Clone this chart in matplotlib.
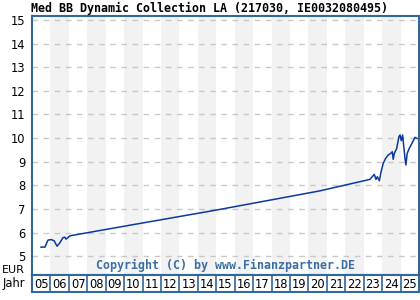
import numpy as np
import matplotlib.pyplot as plt

title = 'Med BB Dynamic Collection LA (217030, IE0032080495)'
copyright_text = 'Copyright (C) by www.Finanzpartner.DE'

# time (decimal years) and price in EUR
t = [2005.49, 2005.70, 2005.87, 2006.05, 2006.20, 2006.36, 2006.50, 2006.68,
     2006.78, 2006.85, 2007.06, 2010.32, 2015.00, 2020.60, 2023.34, 2023.57,
     2023.67, 2023.74, 2023.85, 2023.94, 2024.06, 2024.19, 2024.33, 2024.46,
     2024.55, 2024.60, 2024.66, 2024.79, 2024.91, 2024.97, 2025.04, 2025.11,
     2025.24, 2025.29, 2025.36, 2025.47, 2025.60, 2025.78, 2025.90]
price = [5.38, 5.38, 5.68, 5.70, 5.65, 5.42, 5.55, 5.78,
         5.80, 5.72, 5.86, 6.31, 6.95, 7.76, 8.25, 8.46,
         8.25, 8.36, 8.19, 8.57, 8.93, 9.14, 9.28, 9.35,
         9.42, 9.10, 9.35, 9.56, 10.06, 10.13, 9.89, 10.13,
         9.14, 8.86, 9.35, 9.56, 9.75, 10.03, 9.98]

years = list(range(2005, 2026))
year_labels = ['%02d' % (y % 100) for y in years]
yticks = [5, 6, 7, 8, 9, 10, 11, 12, 13, 14, 15]

border = '#336699'
line_col = '#0a3a9e'

fig = plt.figure(figsize=(4.2, 3.0), dpi=100)
ax = fig.add_axes([32 / 420, 25 / 300, 387 / 420, 259 / 300])

for y in years:
    if y % 2 == 0:
        ax.axvspan(y, y + 1, color='#f2f2f2', lw=0, zorder=0)

ax.plot(t, price, color=line_col, lw=1.1, zorder=3)

ax.set_xlim(2005, 2026)
ax.set_ylim(4.2, 15.17)
ax.set_yticks(yticks)
ax.set_xticks([])
ax.tick_params(axis='y', length=0, labelsize=8.3, pad=5)
for lab in ax.get_yticklabels():
    lab.set_verticalalignment('center_baseline')
ax.yaxis.grid(True, color='#c8c8c8', linestyle=(0, (4, 4)), lw=1)
ax.set_axisbelow(True)
for s in ax.spines.values():
    s.set_color(border)
    s.set_linewidth(1.5)

ax.text(0.5, 0.035, copyright_text, transform=ax.transAxes, ha='center',
        va='center', fontsize=8.4, family='DejaVu Sans Mono',
        fontweight='bold', color='#3a6ea5', zorder=4)

fig.text(31 / 420, 1 - 8 / 300, title, ha='left', va='center',
         fontsize=8.4, family='DejaVu Sans Mono', fontweight='bold')
fig.text(25 / 420, 1 - 270 / 300, 'EUR', ha='right', va='center', fontsize=8)
fig.text(25 / 420, 1 - 284 / 300, 'Jahr', ha='right', va='center', fontsize=8.3)

# year row
yx = fig.add_axes([32 / 420, 8 / 300, 387 / 420, 17 / 300])
yx.set_xlim(2005, 2026)
yx.set_ylim(0, 1)
yx.set_xticks([])
yx.set_yticks([])
for s in yx.spines.values():
    s.set_color(border)
    s.set_linewidth(1.5)
for y in years[1:]:
    yx.axvline(y, color=border, lw=1.2)
for y, lab in zip(years, year_labels):
    yx.text(y + 0.5, 0.45, lab, ha='center', va='center', fontsize=8.3)

fig.savefig('out.png', dpi=100)
